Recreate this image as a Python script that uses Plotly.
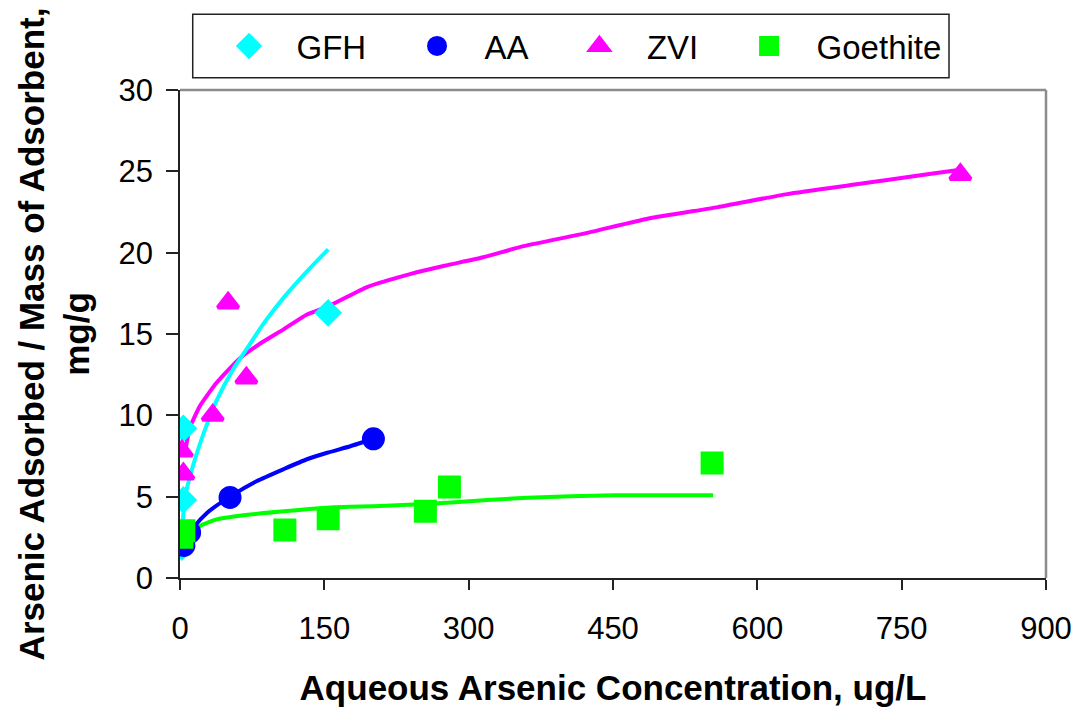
import plotly.graph_objects as go

# ---------------- data ----------------
gfh_x = [2, 3.5, 3.5, 154]
gfh_y = [1.9, 4.8, 9.2, 16.3]
aa_x = [4, 10, 52, 201]
aa_y = [2.0, 2.8, 4.95, 8.56]
zvi_x = [2, 3.5, 34, 50, 69, 811]
zvi_y = [7.8, 6.4, 10.0, 16.9, 12.3, 24.8]
goe_x = [2, 4, 109, 154, 255, 280, 553]
goe_y = [2.5, 2.9, 2.95, 3.65, 4.1, 5.6, 7.07]

# fitted isotherm curves
gfh_fit_x = [1.7, 5, 14, 24, 38, 55, 69, 87, 108, 132, 154]
gfh_fit_y = [2.2, 4.9, 7.0, 8.8, 10.9, 12.8, 14.05, 15.65, 17.25, 18.85, 20.2]
aa_fit_x = [3.5, 14, 28, 52, 80, 108, 132, 153, 177, 201]
aa_fit_y = [2.1, 3.1, 4.0, 5.0, 5.96, 6.7, 7.3, 7.7, 8.1, 8.56]
zvi_fit_x = [5, 10, 21, 38, 62, 83, 108, 132, 154, 195, 240, 275, 314, 357, 422, 487, 559, 631, 703, 775, 811]
zvi_fit_y = [7.6, 9.2, 10.6, 12.0, 13.5, 14.4, 15.3, 16.2, 16.7, 17.9, 18.7, 19.2, 19.7, 20.4, 21.2, 22.1, 22.8, 23.6, 24.2, 24.8, 25.1]
goe_fit_x = [3.5, 21, 38, 73, 108, 160, 208, 278, 361, 451, 554]
goe_fit_y = [2.4, 3.2, 3.6, 3.9, 4.1, 4.35, 4.42, 4.63, 4.94, 5.08, 5.08]

names = ["GFH", "AA", "ZVI", "Goethite"]
x_ticks = [0, 150, 300, 450, 600, 750, 900]
y_ticks = [0, 5, 10, 15, 20, 25, 30]

CYAN, BLUE, MAGENTA, GREEN = "#00FFFF", "#0000FF", "#FF00FF", "#00FF00"
FONT = "Arial, 'Liberation Sans', sans-serif"
PAD = "\u00a0\u00a0\u00a0"
TAIL = "\u00a0\u00a0\u00a0\u00a0\u00a0"

fig = go.Figure()

# fit lines (no legend)
for fx, fy, c in [(zvi_fit_x, zvi_fit_y, MAGENTA), (goe_fit_x, goe_fit_y, GREEN),
                  (aa_fit_x, aa_fit_y, BLUE), (gfh_fit_x, gfh_fit_y, CYAN)]:
    fig.add_trace(go.Scatter(x=fx, y=fy, mode="lines", showlegend=False,
                             line=dict(color=c, width=4, shape="spline", smoothing=0.5),
                             hoverinfo="skip"))

# markers (outline in the same colour so legend symbols come out larger)
series = [
    (gfh_x, gfh_y, names[0], CYAN, "diamond", 17),
    (aa_x, aa_y, names[1], BLUE, "circle", 19),
    (zvi_x, zvi_y, names[2], MAGENTA, "triangle-up", 18),
    (goe_x, goe_y, names[3], GREEN, "square", 19),
]
for i, (sx, sy, nm, c, sym, sz) in enumerate(series):
    label = PAD + nm + (TAIL if i < len(series) - 1 else "")
    fig.add_trace(go.Scatter(x=sx, y=sy, mode="markers", name=label,
                             marker=dict(color=c, symbol=sym, size=sz,
                                         line=dict(width=4, color=c))))

# the page puts the figure 8px in from the top-left corner, so the figure
# is 8px smaller than the window and margins are adjusted accordingly
fig.update_layout(
    width=1072, height=702,
    margin=dict(l=172, r=34, t=82, b=132, autoexpand=False),
    paper_bgcolor="white", plot_bgcolor="white",
    font=dict(family=FONT, color="black"),
    legend=dict(orientation="h", x=0.0566, xanchor="left", y=1.1476, yanchor="top",
                borderwidth=0, bgcolor="rgba(0,0,0,0)",
                font=dict(size=33, family=FONT), itemsizing="trace",
                traceorder="normal"),
    xaxis=dict(range=[0, 900], tickvals=x_ticks, ticktext=[str(v) for v in x_ticks],
               showgrid=False, zeroline=False, showline=True, linecolor="#222222",
               linewidth=1.5, ticks="outside", ticklen=10, tickcolor="#222222",
               tickwidth=1.5, tickfont=dict(size=31, family=FONT),
               ticklabelstandoff=12, automargin=False,
               title=dict(text="<b>Aqueous Arsenic Concentration, ug/L</b>",
                          font=dict(size=35, family=FONT), standoff=31)),
    yaxis=dict(range=[0, 30], tickvals=y_ticks, ticktext=[str(v) for v in y_ticks],
               showgrid=False, zeroline=False, showline=True, linecolor="#222222",
               linewidth=1.5, ticks="outside", ticklen=12, tickcolor="#222222",
               tickwidth=1.5, tickfont=dict(size=31, family=FONT),
               ticklabelstandoff=7, automargin=False,
               title=dict(text="<b>Arsenic Adsorbed / Mass of Adsorbent,<br>mg/g</b>",
                          font=dict(size=35, family=FONT), standoff=18)),
)

# legend frame
fig.add_shape(type="rect", xref="paper", yref="paper",
              x0=0.0147, x1=0.888, y0=1.0252, y1=1.1552,
              line=dict(color="#222222", width=1.5), fillcolor="white", layer="below")

# grey frame on top and right edges of the plot area
fig.add_shape(type="line", xref="paper", yref="paper", x0=0, x1=1, y0=1, y1=1,
              line=dict(color="#8c8c8c", width=2.5))
fig.add_shape(type="line", xref="paper", yref="paper", x0=1, x1=1, y0=0, y1=1,
              line=dict(color="#8c8c8c", width=2.5))

fig.write_html("out.html")
